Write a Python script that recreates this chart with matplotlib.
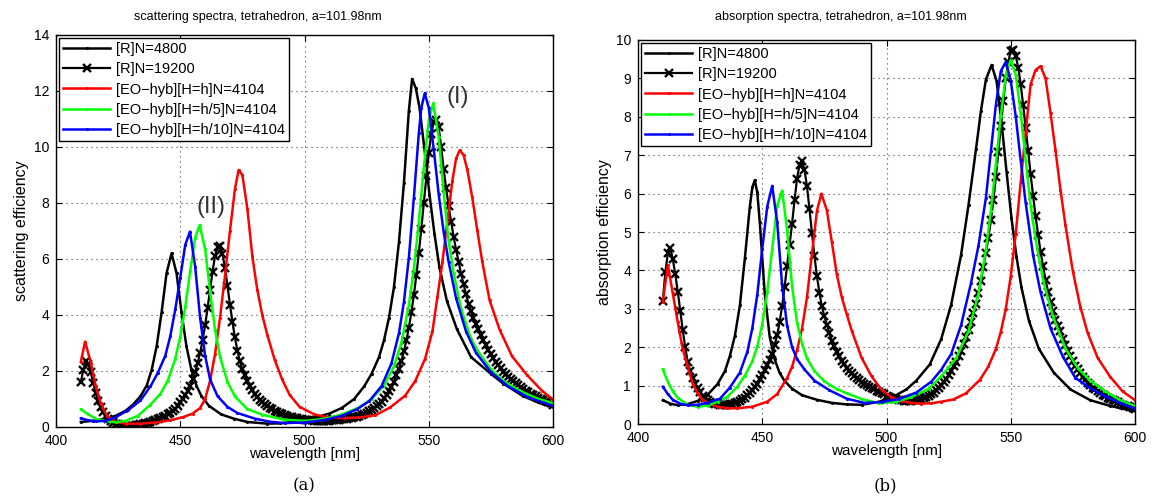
import matplotlib
matplotlib.use("Agg")
import matplotlib.pyplot as plt

# ---------------- data: scattering (panel a) ----------------
wl_grid = list(range(410, 601))   # 1 nm sampling of the [R]N=19200 series

wl_sca_R4800 = [410, 415, 420, 424, 428, 431, 434, 436.5, 438.5, 440.5, 442.5, 444.5, 446.5, 448.5, 450.5,
                452.5, 454.5, 456.5, 458.5, 461.5, 466.5, 471.5, 477, 485, 490, 495, 500, 505, 510, 515,
                520, 524, 527, 530, 532, 534, 536, 538, 540, 542, 543.3, 544.8, 546.3, 548.3, 550.3,
                552.3, 554.3, 557.3, 561.3, 567, 575, 580, 588, 594, 600]
sca_R4800 = [0.18, 0.22, 0.30, 0.40, 0.58, 0.80, 1.10, 1.48, 2.04, 2.88, 4.10, 5.50, 6.20, 5.50, 4.10,
             2.88, 2.04, 1.48, 1.11, 0.76, 0.45, 0.30, 0.18, 0.12, 0.13, 0.18, 0.25, 0.35, 0.48, 0.68,
             1.00, 1.45, 1.90, 2.50, 3.10, 3.90, 5.00, 6.60, 8.70, 11.30, 12.43, 12.10, 11.40, 9.90, 8.30,
             6.90, 5.70, 4.50, 3.50, 2.50, 1.90, 1.55, 1.10, 0.88, 0.70]

sca_R19200 = [1.60, 2.05, 2.35, 2.25, 1.95, 1.58, 1.20, 0.92, 0.70, 0.53,
              0.40, 0.30, 0.22, 0.16, 0.12, 0.09, 0.07, 0.06, 0.05, 0.045,
              0.04, 0.05, 0.06, 0.075, 0.09, 0.11, 0.13, 0.155, 0.18, 0.21,
              0.24, 0.275, 0.31, 0.35, 0.40, 0.45, 0.50, 0.58, 0.66, 0.76,
              0.88, 1.01, 1.15, 1.30, 1.48, 1.70, 1.96, 2.28, 2.65, 3.10,
              3.63, 4.25, 4.90, 5.55, 6.11, 6.42, 6.47, 6.18, 5.68, 5.05,
              4.37, 3.75, 3.20, 2.73, 2.34, 2.08, 1.87, 1.66, 1.47, 1.32,
              1.19, 1.08, 0.98, 0.90, 0.82, 0.75, 0.69, 0.63, 0.58, 0.53,
              0.49, 0.46, 0.43, 0.40, 0.37, 0.35, 0.33, 0.31, 0.29, 0.275,
              0.26, 0.25, 0.24, 0.235, 0.23, 0.225, 0.22, 0.22, 0.22, 0.225,
              0.23, 0.235, 0.24, 0.25, 0.26, 0.27, 0.28, 0.295, 0.31, 0.33,
              0.35, 0.375, 0.40, 0.43, 0.47, 0.51, 0.56, 0.61, 0.67, 0.74,
              0.82, 0.91, 1.02, 1.14, 1.28, 1.44, 1.62, 1.84, 2.08, 2.37,
              2.70, 3.10, 3.55, 4.10, 4.70, 5.42, 6.20, 7.08, 8.00, 8.95,
              9.80, 10.45, 10.90, 10.95, 10.70, 10.00, 9.20, 8.52, 7.90, 7.33,
              6.80, 6.33, 5.90, 5.48, 5.10, 4.74, 4.40, 4.14, 3.90, 3.69,
              3.50, 3.29, 3.10, 2.92, 2.75, 2.60, 2.45, 2.32, 2.20, 2.09,
              1.98, 1.89, 1.80, 1.71, 1.63, 1.56, 1.49, 1.42, 1.36, 1.30,
              1.25, 1.19, 1.14, 1.09, 1.05, 1.00, 0.96, 0.92, 0.88, 0.84,
              0.80]

wl_sca_h = [410, 411.7, 414, 416, 418, 420.5, 424, 428, 434, 440, 446, 451, 455, 458, 460, 462, 464, 466,
            468, 470, 472, 473.5, 475, 477, 479, 481, 483, 485, 488, 491, 494, 498, 504, 510, 516, 522,
            528.5, 534.5, 540.5, 544.5, 548.5, 551.5, 553.5, 555.5, 557.5, 559.5, 561, 562.5, 564, 565.5,
            567.5, 569.5, 571.5, 574.5, 578.5, 583.5, 589.5, 595.5, 600]
sca_h = [2.33, 3.05, 2.30, 1.45, 0.85, 0.40, 0.18, 0.12, 0.12, 0.16, 0.24, 0.35, 0.48, 0.68, 1.00, 1.65,
         2.60, 3.90, 5.40, 7.00, 8.50, 9.18, 9.00, 7.80, 6.10, 4.90, 4.00, 3.30, 2.40, 1.70, 1.15, 0.72,
         0.45, 0.33, 0.32, 0.34, 0.42, 0.70, 1.12, 1.63, 2.43, 3.42, 4.66, 5.89, 7.35, 8.79, 9.59, 9.89,
         9.71, 9.20, 8.20, 7.04, 5.92, 4.52, 3.48, 2.53, 1.86, 1.30, 0.98]

wl_sca_h5 = [410, 413, 416, 420, 424, 428, 433, 438, 442, 445, 448, 450, 452, 454, 456, 457.8, 460, 462,
             464, 466, 469, 472, 477, 483, 492, 500, 504, 510, 516, 522, 527, 532, 536, 539, 542, 544,
             546, 548, 550, 551.8, 554, 556, 558, 560, 563, 567, 570, 575, 580, 587, 594, 600]
sca_h5 = [0.63, 0.45, 0.30, 0.20, 0.17, 0.22, 0.40, 0.80, 1.18, 1.66, 2.44, 3.22, 4.27, 5.57, 6.76, 7.21,
          6.36, 4.84, 3.48, 2.51, 1.61, 1.09, 0.64, 0.44, 0.26, 0.22, 0.25, 0.33, 0.48, 0.70, 1.00, 1.48,
          2.17, 3.01, 4.35, 5.63, 7.31, 9.25, 10.95, 11.56, 10.37, 8.37, 6.64, 5.50, 4.22, 3.15, 2.68,
          2.06, 1.65, 1.27, 1.01, 0.85]

wl_sca_h10 = [410, 413, 416, 420, 424, 429, 434, 438, 441, 444, 446, 448, 450, 452, 453.9, 456, 458, 460,
              462, 465, 469, 473, 480, 486, 492, 500, 508, 515, 521, 526, 531, 535, 538, 540, 542, 544,
              546, 547, 548.4, 550, 552, 554, 556, 558, 561, 565, 569, 575, 582, 590, 600]
sca_h10 = [0.31, 0.24, 0.20, 0.22, 0.35, 0.60, 0.95, 1.45, 1.94, 2.55, 3.25, 4.20, 5.33, 6.50, 6.98, 5.73,
           3.90, 2.55, 1.70, 1.10, 0.72, 0.50, 0.30, 0.19, 0.14, 0.16, 0.25, 0.40, 0.63, 0.92, 1.46, 2.27,
           3.35, 4.46, 6.05, 8.18, 10.49, 11.40, 11.92, 11.40, 9.92, 8.31, 6.96, 5.90, 4.60, 3.41, 2.65,
           1.96, 1.45, 1.06, 0.75]

# ---------------- data: absorption (panel b) ----------------
wl_abs_R4800 = [410, 413, 416, 420, 424, 428, 432, 435, 437, 439, 441, 443, 445, 446, 447, 448, 449, 451,
                453, 455, 457, 459, 462, 466, 472, 478, 484, 490, 497, 503, 508, 512, 517.4, 522, 526, 530,
                533, 536, 538, 540, 542.3, 544.3, 546.3, 548.3, 550.3, 552.3, 554.3, 557.3, 561.3, 567.3,
                574, 582, 590, 600]
abs_R4800 = [0.62, 0.53, 0.49, 0.52, 0.60, 0.76, 1.04, 1.38, 1.78, 2.30, 3.09, 4.31, 5.66, 6.16, 6.35,
             6.03, 5.26, 3.40, 2.27, 1.68, 1.33, 1.12, 0.92, 0.75, 0.63, 0.55, 0.51, 0.50, 0.58, 0.72,
             0.90, 1.13, 1.55, 2.21, 3.10, 4.40, 5.70, 7.15, 8.15, 8.97, 9.35, 8.93, 7.85, 6.57, 5.36,
             4.36, 3.56, 2.69, 1.96, 1.34, 0.90, 0.62, 0.47, 0.34]

abs_R19200 = [3.20, 3.95, 4.45, 4.58, 4.30, 3.90, 3.45, 2.95, 2.45, 2.00,
              1.62, 1.38, 1.20, 1.05, 0.93, 0.83, 0.74, 0.67, 0.62, 0.58,
              0.55, 0.53, 0.51, 0.50, 0.49, 0.49, 0.50, 0.51, 0.52, 0.545,
              0.57, 0.60, 0.64, 0.69, 0.75, 0.81, 0.88, 0.96, 1.05, 1.16,
              1.28, 1.40, 1.53, 1.67, 1.83, 2.05, 2.32, 2.66, 3.07, 3.57,
              4.11, 4.67, 5.22, 5.83, 6.39, 6.75, 6.85, 6.62, 6.19, 5.60,
              4.97, 4.38, 3.85, 3.42, 3.06, 2.80, 2.58, 2.37, 2.17, 2.02,
              1.88, 1.76, 1.65, 1.56, 1.47, 1.39, 1.32, 1.26, 1.20, 1.15,
              1.10, 1.05, 1.01, 0.97, 0.94, 0.90, 0.87, 0.83, 0.80, 0.77,
              0.74, 0.71, 0.68, 0.66, 0.64, 0.63, 0.62, 0.61, 0.61, 0.61,
              0.61, 0.615, 0.62, 0.63, 0.65, 0.67, 0.70, 0.73, 0.77, 0.82,
              0.88, 0.94, 1.01, 1.09, 1.18, 1.28, 1.38, 1.50, 1.62, 1.76,
              1.91, 2.08, 2.26, 2.45, 2.66, 2.89, 3.13, 3.42, 3.73, 4.10,
              4.45, 4.85, 5.30, 5.83, 6.42, 7.08, 7.76, 8.40, 9.00, 9.42,
              9.72, 9.75, 9.59, 9.28, 8.85, 8.30, 7.72, 7.10, 6.50, 5.94,
              5.41, 4.93, 4.49, 4.11, 3.76, 3.45, 3.17, 2.93, 2.71, 2.55,
              2.41, 2.22, 2.05, 1.90, 1.77, 1.64, 1.52, 1.42, 1.32, 1.23,
              1.15, 1.08, 1.01, 0.95, 0.90, 0.85, 0.80, 0.76, 0.72, 0.68,
              0.65, 0.62, 0.59, 0.56, 0.53, 0.50, 0.48, 0.46, 0.44, 0.42,
              0.40]

wl_abs_h = [410, 412, 414, 416, 418, 420, 422, 424, 426, 428, 432, 436, 440, 446, 452, 456, 460, 462, 464,
            466, 468, 470, 472, 473.8, 476, 478, 480, 482, 484, 486, 490, 494, 498, 502, 506, 510, 514,
            518, 522, 527, 532, 537.6, 541, 544, 546, 548, 550, 552, 554, 556, 558, 560, 562, 564, 566,
            568, 570, 572, 575, 578, 581, 585, 590, 595, 600]
abs_h = [3.19, 4.14, 3.40, 2.65, 1.95, 1.50, 1.05, 0.80, 0.63, 0.55, 0.45, 0.41, 0.41, 0.45, 0.58, 0.78,
         1.20, 1.49, 1.93, 2.48, 3.30, 4.43, 5.55, 6.00, 5.56, 4.74, 3.90, 3.30, 2.86, 2.43, 1.72, 1.24,
         0.89, 0.70, 0.60, 0.55, 0.53, 0.54, 0.58, 0.64, 0.80, 1.15, 1.50, 1.95, 2.40, 3.00, 3.85, 4.95,
         6.30, 7.60, 8.85, 9.22, 9.32, 9.00, 8.10, 7.13, 6.10, 5.18, 3.97, 3.05, 2.36, 1.72, 1.23, 0.85,
         0.62]

wl_abs_h5 = [410, 412, 414, 416, 420, 424, 428, 432, 436, 440, 443, 446, 448, 450, 452, 454, 456, 458,
             460, 462, 464, 466, 468, 471, 475, 480, 484, 490, 497, 504, 510, 517, 522, 528, 533, 537,
             540, 542, 544, 546, 548, 550, 552, 554, 556, 558, 560, 563, 567, 572, 577, 582, 588, 594, 600]
abs_h5 = [1.42, 1.10, 0.85, 0.68, 0.50, 0.45, 0.48, 0.58, 0.71, 0.97, 1.26, 1.63, 2.02, 2.59, 3.43, 4.55,
          5.69, 6.08, 5.05, 3.59, 2.64, 2.09, 1.71, 1.38, 1.11, 0.91, 0.80, 0.65, 0.54, 0.58, 0.70, 0.92,
          1.24, 1.71, 2.42, 3.39, 4.54, 5.55, 6.76, 8.03, 9.07, 9.48, 9.10, 8.11, 6.87, 5.69, 4.82, 3.74,
          2.80, 1.97, 1.45, 1.13, 0.85, 0.62, 0.47]

wl_abs_h10 = [410, 412, 414, 417, 420, 424, 428, 433, 437, 441, 444, 446, 448, 450, 452, 454, 456, 458,
              460, 462, 464, 467, 471, 477, 484, 491, 498, 505, 512, 518, 522, 526, 530, 534, 537, 540,
              542, 544, 546, 548, 550, 552, 554, 556, 559, 562, 566, 571, 576, 582, 588, 594, 600]
abs_h10 = [0.97, 0.78, 0.63, 0.53, 0.49, 0.50, 0.55, 0.66, 0.95, 1.34, 1.88, 2.49, 3.37, 4.56, 5.66, 6.20,
           5.26, 3.61, 2.56, 2.00, 1.69, 1.42, 1.13, 0.88, 0.66, 0.55, 0.57, 0.65, 0.82, 1.10, 1.41, 1.82,
           2.57, 3.67, 4.64, 5.89, 7.10, 8.30, 9.19, 9.43, 8.94, 8.01, 6.87, 5.76, 4.39, 3.43, 2.49, 1.75,
           1.20, 0.93, 0.72, 0.55, 0.40]

labels = ["[R]N=4800", "[R]N=19200", "[EO\u2212hyb][H=h]N=4104",
          "[EO\u2212hyb][H=h/5]N=4104", "[EO\u2212hyb][H=h/10]N=4104"]
titles = ["scattering spectra, tetrahedron, a=101.98nm", "absorption spectra, tetrahedron, a=101.98nm"]
ylabels = ["scattering efficiency", "absorption efficiency"]
captions = ["(a)", "(b)"]

# ---------------- styling ----------------
plt.rcParams['font.family'] = ['Liberation Sans', 'DejaVu Sans']

W, H = 1152, 500
fig = plt.figure(figsize=(W / 100, H / 100), dpi=100)
ax1 = fig.add_axes([56 / W, 73 / H, 497 / W, 392 / H])
ax2 = fig.add_axes([638 / W, 76 / H, 497 / W, 384 / H])

panels = [
    (ax1, [(wl_sca_R4800, sca_R4800), (wl_grid, sca_R19200), (wl_sca_h, sca_h),
           (wl_sca_h5, sca_h5), (wl_sca_h10, sca_h10)], 14, 2, 258, 304),
    (ax2, [(wl_abs_R4800, abs_R4800), (wl_grid, abs_R19200), (wl_abs_h, abs_h),
           (wl_abs_h5, abs_h5), (wl_abs_h10, abs_h10)], 10, 1, 841, 885),
]
colors = ['#000000', '#000000', '#ff0000', '#00ff00', '#0000ff']

for i, (ax, series, ymax, ystep, title_x, cap_x) in enumerate(panels):
    for j, (x, y) in enumerate(series):
        if j == 1:
            ax.plot(x, y, color=colors[j], lw=1.6, marker='x', ms=5.5, mew=1.7, label=labels[j])
        else:
            ax.plot(x, y, color=colors[j], lw=1.8, marker='.', ms=2.5, label=labels[j])
    ax.set_xlim(400, 600)
    ax.set_ylim(0, ymax)
    ax.set_xticks(range(400, 601, 50))
    ax.set_yticks(range(0, ymax + 1, ystep))
    ax.tick_params(direction='in', top=True, right=True, length=4, width=0.8, labelsize=10)
    ax.tick_params(axis='x', pad=5)
    ax.tick_params(axis='y', pad=5)
    ax.grid(True, color='#444444', linestyle=(0, (1, 3.5)), linewidth=0.8)
    for sp in ax.spines.values():
        sp.set_linewidth(1.0)
    fig.text(title_x / W, 1 - 17 / H, titles[i], fontsize=9, ha='center', va='center')
    ax.set_xlabel("wavelength [nm]", fontsize=11, labelpad=-1)
    ax.set_ylabel(ylabels[i], fontsize=11.5, labelpad=3)
    leg = ax.legend(loc='upper left', bbox_to_anchor=(0.0, 1.0), fontsize=10.5, frameon=True,
                    fancybox=False, edgecolor='black', framealpha=1.0, borderaxespad=0.2,
                    handlelength=3.2, labelspacing=0.42, borderpad=0.3, handletextpad=0.4)
    leg.get_frame().set_linewidth(1.0)
    fig.text(cap_x / W, 1 - 486 / H, captions[i], ha='center', va='center',
             fontsize=12, family=['DejaVu Serif'])

ax1.text(561.5, 11.8, "(I)", fontsize=17, color='#333333', ha='center', va='center')
ax1.text(462.2, 7.86, "(II)", fontsize=17, color='#333333', ha='center', va='center')

fig.savefig("out.png", dpi=100)
